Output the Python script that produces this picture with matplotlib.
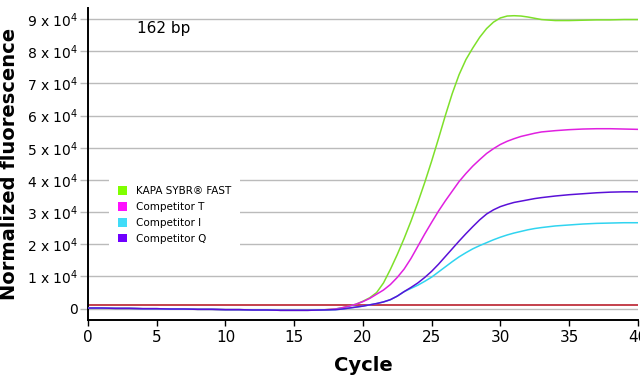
import matplotlib
matplotlib.use("Agg")
import matplotlib.pyplot as plt
from matplotlib.patches import Patch

cycles = [0, 1, 2, 3, 4, 5, 6, 7, 8, 9, 10, 11, 12, 13, 14, 15, 16, 17, 18,
          18.5, 19, 19.5, 20, 20.5, 21, 21.5, 22, 22.5, 23, 23.5, 24, 24.5,
          25, 25.5, 26, 26.5, 27, 27.5, 28, 28.5, 29, 29.5, 30, 30.5, 31,
          31.5, 32, 32.5, 33, 34, 35, 36, 37, 38, 39, 40]

# normalized fluorescence, units of 1e4
base = [0.02, 0.02, 0.01, 0.01, 0.0, 0.0, -0.01, -0.01, -0.02, -0.02,
        -0.03, -0.03, -0.04, -0.04, -0.05, -0.05, -0.05, -0.04]
kapa = base + [-0.01,
               0.03, 0.08, 0.14, 0.23, 0.34, 0.5, 0.8, 1.22, 1.68, 2.18, 2.72,
               3.3, 3.92, 4.58, 5.28, 6.0, 6.68, 7.27, 7.74, 8.1, 8.43, 8.7,
               8.9, 9.03, 9.09, 9.1, 9.09, 9.06, 9.02, 8.98,
               8.95, 8.95, 8.96, 8.97, 8.97, 8.98, 8.98]
comp_t = base + [-0.01,
                 0.03, 0.08, 0.14, 0.22, 0.32, 0.45, 0.58, 0.75, 0.97, 1.23,
                 1.56, 1.94, 2.32, 2.68, 3.03, 3.35, 3.65, 3.95, 4.2, 4.43,
                 4.63, 4.82, 4.97, 5.1, 5.2, 5.28, 5.35, 5.4, 5.45, 5.49,
                 5.53, 5.56, 5.58, 5.59, 5.59, 5.58, 5.57]
comp_i = base + [-0.03,
                 -0.01, 0.02, 0.05, 0.08, 0.12, 0.16, 0.21, 0.28, 0.39, 0.53,
                 0.63, 0.73, 0.85, 0.98, 1.14, 1.3, 1.46, 1.61, 1.74, 1.86,
                 1.96, 2.05, 2.14, 2.22, 2.29, 2.35, 2.4, 2.45, 2.49, 2.52,
                 2.57, 2.6, 2.63, 2.65, 2.66, 2.67, 2.67]
comp_q = base + [-0.03,
                 -0.01, 0.02, 0.05, 0.08, 0.12, 0.16, 0.21, 0.28, 0.39, 0.53,
                 0.66, 0.8, 0.97, 1.16, 1.38, 1.62, 1.86, 2.1, 2.33, 2.55,
                 2.76, 2.94, 3.07, 3.17, 3.24, 3.3, 3.34, 3.38, 3.42, 3.45,
                 3.5, 3.54, 3.57, 3.6, 3.62, 3.63, 3.63]
threshold = 0.1

names = ["KAPA SYBR® FAST", "Competitor T", "Competitor I", "Competitor Q"]
series = [kapa, comp_t, comp_i, comp_q]
line_colors = ["#7ee02a", "#e020e0", "#30d4f0", "#5a10d8"]
box_colors = ["#80ff00", "#ff10ff", "#40dcf8", "#7000ff"]

yticks = list(range(0, 10))
ytick_labels = ["0"] + [f"{v} x 10$^4$" for v in range(1, 10)]
xticks = list(range(0, 41, 5))

fig = plt.figure(figsize=(6.4, 3.8), dpi=100)
ax = fig.add_axes([0.1375, 0.158, 0.859, 0.821])

ax.axhline(threshold, color="#c4404c", lw=1.4, zorder=2)
for vals, c in zip(series, line_colors):
    ax.plot(cycles, vals, color=c, lw=1.1, zorder=3)

ax.set_xlim(0, 40)
ax.set_ylim(-0.35, 9.34)
ax.set_xticks(xticks)
ax.set_yticks(yticks)
ax.set_yticklabels(ytick_labels)
ax.grid(axis="y", color="#bbbbbb", lw=1.0)
ax.set_axisbelow(True)
ax.tick_params(axis="y", colors="#bbbbbb", length=6, width=1.0, labelcolor="black",
               labelsize=10, pad=1)
ax.tick_params(axis="x", length=4, width=1.0, labelsize=11, pad=3)
for s in ["top", "right"]:
    ax.spines[s].set_visible(False)
ax.spines["left"].set_linewidth(1.4)
ax.spines["bottom"].set_linewidth(1.4)

ax.set_xlabel("Cycle", fontsize=14, fontweight="bold", labelpad=8)
ax.set_ylabel("Normalized fluorescence", fontsize=14, fontweight="bold", labelpad=6)

ax.text(0.09, 0.935, "162 bp", transform=ax.transAxes, fontsize=11, va="center")

handles = [Patch(facecolor=c, edgecolor="none") for c in box_colors]
leg = ax.legend(handles, names, loc="upper left", bbox_to_anchor=(0.028, 0.475),
                fontsize=7.5, frameon=True, facecolor="white", edgecolor="none",
                framealpha=1, handlelength=0.9, handleheight=0.9, handletextpad=0.8,
                labelspacing=0.55, borderpad=0.9, fancybox=False)
leg.set_zorder(5)

fig.savefig("out.png", dpi=100)
